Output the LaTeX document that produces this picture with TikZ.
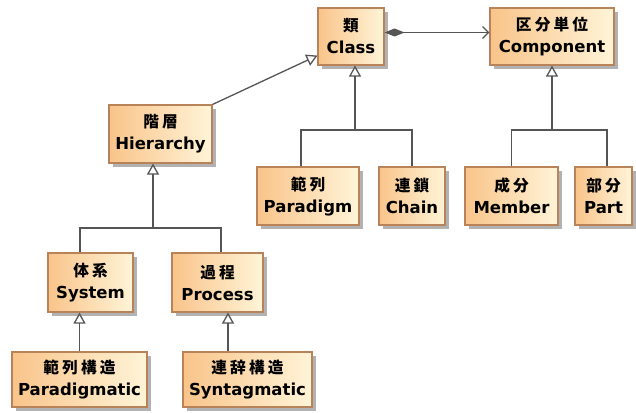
\documentclass[tikz,border=0pt]{standalone}
\usepackage{fontspec}
\setmainfont{DejaVu Sans}
\newfontfamily\cjk[Scale=0.95,LetterSpace=20]{Noto Sans CJK JP}
\usepackage{xcolor}
\definecolor{boxorange}{HTML}{F9C48A}
\definecolor{boxcream}{HTML}{FFF4D8}
\definecolor{boxline}{HTML}{B98359}
\definecolor{linkgray}{HTML}{555555}
\usepackage{tikz}
\usetikzlibrary{arrows.meta,positioning,shadows}

\begin{document}
\begin{tikzpicture}[x=1pt,y=-1pt,
  umlbox/.style={draw=boxline,line width=1.1pt,left color=boxorange,right color=boxcream,
    align=center,inner sep=2pt,minimum height=57pt,font=\fontsize{16.5}{22}\selectfont\bfseries,
    drop shadow={shadow xshift=4pt,shadow yshift=-4pt,fill=black!30,opacity=1}},
  link/.style={draw=linkgray,line width=1.3pt},
  gen/.style={link,-{Triangle[open,length=11pt,width=12pt,fill=white]}},
  compo/.style={link,{Diamond[length=20pt,width=8pt,fill=linkgray]}-{Straight Barb[length=6pt,width=12pt]}}]
\useasboundingbox (0,0) rectangle (636,412);
% top row
\node[umlbox,minimum width=66pt] (cls) at (351,36.5) {{\cjk 類}\\Class};
\node[umlbox,minimum width=124pt] (comp) at (552,36.5) {{\cjk 区分単位}\\Component};
\node[umlbox,minimum width=103pt,minimum height=58pt] (hier) at (160.5,134) {{\cjk 階層}\\Hierarchy};
% children of class and component
\node[umlbox,minimum width=102pt,minimum height=58pt] (para) at (308,196) {{\cjk 範列}\\Paradigm};
\node[umlbox,minimum width=66pt,minimum height=58pt] (chain) at (412,196) {{\cjk 連鎖}\\Chain};
\node[umlbox,minimum width=93pt,minimum height=58pt] (memb) at (511.5,196) {{\cjk 成分}\\Member};
\node[umlbox,minimum width=57pt,minimum height=58pt] (part) at (603.5,196) {{\cjk 部分}\\Part};
% hierarchy branch
\node[umlbox,minimum width=85pt,minimum height=59pt] (sys) at (90.5,282.5) {{\cjk 体系}\\System};
\node[umlbox,minimum width=91pt,minimum height=59pt] (proc) at (217.5,282.5) {{\cjk 過程}\\Process};
\node[umlbox,minimum width=135pt,minimum height=55pt] (pstruct) at (79.5,379.5) {{\cjk 範列構造}\\Paradigmatic};
\node[umlbox,minimum width=129pt,minimum height=55pt] (sstruct) at (247.5,379.5) {{\cjk 連辞構造}\\Syntagmatic};
% branching points
\coordinate (clsbar) at (355,130);
\coordinate (compbar) at (552,130);
\coordinate (hierbar) at (153,228);
% connectors
\draw[compo] ([yshift=4pt]cls.east) -- ([yshift=4pt]comp.west);
\draw[gen] (hier.north east) -- ([yshift=10pt]cls.south west);
\draw[gen] (clsbar) -- ([xshift=4pt]cls.south);
\draw[link] ([xshift=-7pt]para.north) |- (clsbar) -| (chain.north);
\draw[gen] (compbar) -- (comp.south);
\draw[link] (memb.north) |- (compbar) -| ([xshift=3.5pt]part.north);
\draw[gen] (hierbar) -- ([xshift=-7.5pt]hier.south);
\draw[link] ([xshift=-10.5pt]sys.north) |- (hierbar) -| ([xshift=3.5pt]proc.north);
\draw[gen] (pstruct.north) -- (pstruct.north |- sys.south);
\draw[gen] ([xshift=-19.5pt]sstruct.north) -- ([xshift=-19.5pt]sstruct.north |- proc.south);
\end{tikzpicture}
\end{document}
